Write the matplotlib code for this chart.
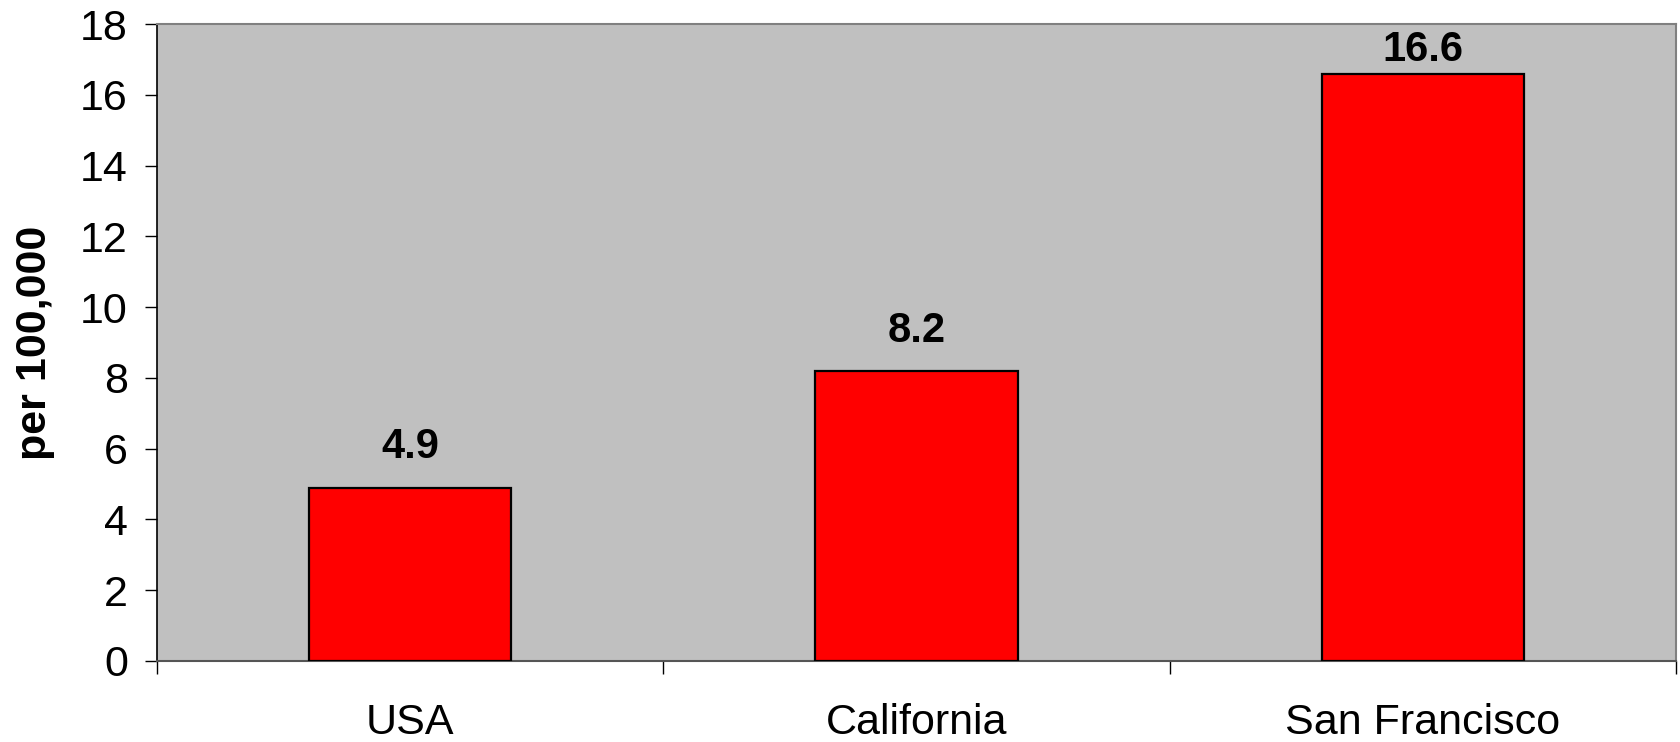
import numpy as np
import matplotlib
matplotlib.use('Agg')
import matplotlib.pyplot as plt
from matplotlib.ticker import MultipleLocator

plt.rcParams['font.family'] = ['Liberation Sans', 'DejaVu Sans']

categories = ['USA', 'California', 'San Francisco']
values = [4.9, 8.2, 16.6]
y_ticks = [0, 2, 4, 6, 8, 10, 12, 14, 16, 18]
y_max = 18

fig = plt.figure(figsize=(16.8, 7.42), dpi=100)
# axes placed to match the plot area in the reference
ax = fig.add_axes([157 / 1680, 1 - 661 / 742, 1519 / 1680, 637 / 742])
ax.set_facecolor('#C0C0C0')

x = np.arange(len(categories)) + 0.5
bars = ax.bar(x, values, width=0.4, color='#FF0000', edgecolor='black', linewidth=1.6, zorder=3)

for b, v in zip(bars, values):
    cx = b.get_x() + b.get_width() / 2
    if v + 2.0 > y_max:
        # label would leave the plot area, keep it inside like Excel does
        ax.annotate(f'{v:.1f}', (cx, y_max), xytext=(0, -4), textcoords='offset points',
                    ha='center', va='top', fontsize=30, fontweight='bold')
    else:
        ax.annotate(f'{v:.1f}', (cx, v), xytext=(0, 29), textcoords='offset points',
                    ha='center', va='center', fontsize=30, fontweight='bold')

ax.set_xlim(0, len(categories))
ax.set_ylim(0, y_max)
ax.set_yticks(y_ticks)

# category labels at centres, separator ticks at boundaries
ax.set_xticks(x)
ax.set_xticklabels(categories)
ax.xaxis.set_minor_locator(MultipleLocator(1))
ax.tick_params(axis='x', which='major', length=0, pad=30, labelsize=31)
ax.tick_params(axis='x', which='minor', length=9, width=1, color='black', direction='out')
ax.tick_params(axis='y', length=9, width=1, pad=12, labelsize=31, direction='out')

ax.set_ylabel('per 100,000', fontsize=31, fontweight='bold')
ax.yaxis.set_label_coords(-0.067, 0.5)

for side in ['top', 'right']:
    ax.spines[side].set_color('#808080')
    ax.spines[side].set_linewidth(1.5)
ax.spines['left'].set_color('black')
ax.spines['left'].set_linewidth(1.2)
ax.spines['bottom'].set_color('#555555')
ax.spines['bottom'].set_linewidth(1.5)

fig.savefig('out.png', dpi=100)
